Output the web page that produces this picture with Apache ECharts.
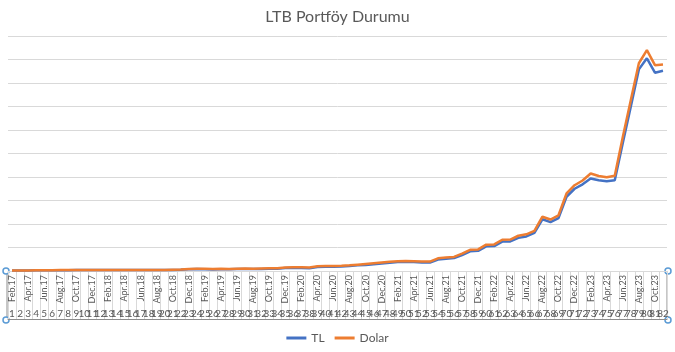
<!DOCTYPE html>
<html>
<head>
<meta charset="utf-8">
<script src="https://cdn.jsdelivr.net/npm/echarts@6/dist/echarts.min.js"></script>
<style>html,body{margin:0;padding:0;background:#fff}#c{width:675px;height:352px}</style>
</head>
<body>
<div id="c"></div>
<script>
var titleText = 'LTB Portföy Durumu';
var months = [
'Feb.17','Mar.17','Apr.17','May.17','Jun.17','Jul.17','Aug.17','Sep.17','Oct.17','Nov.17','Dec.17',
'Jan.18','Feb.18','Mar.18','Apr.18','May.18','Jun.18','Jul.18','Aug.18','Sep.18','Oct.18','Nov.18','Dec.18',
'Jan.19','Feb.19','Mar.19','Apr.19','May.19','Jun.19','Jul.19','Aug.19','Sep.19','Oct.19','Nov.19','Dec.19',
'Jan.20','Feb.20','Mar.20','Apr.20','May.20','Jun.20','Jul.20','Aug.20','Sep.20','Oct.20','Nov.20','Dec.20',
'Jan.21','Feb.21','Mar.21','Apr.21','May.21','Jun.21','Jul.21','Aug.21','Sep.21','Oct.21','Nov.21','Dec.21',
'Jan.22','Feb.22','Mar.22','Apr.22','May.22','Jun.22','Jul.22','Aug.22','Sep.22','Oct.22','Nov.22','Dec.22',
'Jan.23','Feb.23','Mar.23','Apr.23','May.23','Jun.23','Jul.23','Aug.23','Sep.23','Oct.23','Nov.23'
];
var indexLabels = [
'1','2','3','4','5','6','7','8','9','10','11','12','13','14','15','16','17','18','19','20',
'21','22','23','24','25','26','27','28','29','30','31','32','33','34','35','36','37','38','39','40',
'41','42','43','44','45','46','47','48','49','50','51','52','53','54','55','56','57','58','59','60',
'61','62','63','64','65','66','67','68','69','70','71','72','73','74','75','76','77','78','79','80',
'81','82'
];
var tlValues = [
0.2,0.2,0.2,0.3,0.3,0.3,0.3,0.3,0.4,0.4,0.4,0.4,0.4,0.4,0.4,0.4,0.4,0.4,0.4,0.4,
0.4,0.5,0.7,0.8,0.7,0.6,0.7,0.7,0.8,0.9,0.8,0.9,1.0,1.0,1.3,1.4,1.3,1.2,1.7,1.8,
1.8,1.9,2.1,2.4,2.6,2.9,3.2,3.5,3.8,3.9,3.8,3.6,3.6,4.9,5.2,5.5,6.8,8.4,8.6,10.5,
10.6,12.5,12.6,14.1,14.7,16.2,22.0,20.8,22.5,31.6,35.0,36.9,39.4,38.6,38.2,38.6,54.5,70.0,85.8,90.5,
84.4,85.2
];
var dolarValues = [
0.2,0.2,0.2,0.3,0.3,0.3,0.4,0.4,0.4,0.4,0.4,0.4,0.4,0.4,0.4,0.4,0.4,0.4,0.4,0.4,
0.5,0.6,0.9,1.0,1.0,0.9,1.0,0.9,1.0,1.1,1.0,1.1,1.2,1.2,1.5,1.6,1.6,1.5,2.0,2.1,
2.1,2.2,2.4,2.7,3.0,3.3,3.6,3.9,4.2,4.3,4.2,4.0,4.0,5.4,5.7,6.0,7.4,9.0,9.2,11.2,
11.3,13.3,13.4,15.0,15.6,17.1,23.1,21.9,23.7,33.0,36.5,38.5,41.5,40.4,39.9,40.5,57.0,72.8,88.4,94.0,
87.6,87.9
];
var seriesNames = ['TL','Dolar'];

var font = 'Lato, "Liberation Sans", sans-serif';
var chart = echarts.init(document.getElementById('c'), null, {renderer:'canvas'});
chart.setOption({
  animation:false,
  backgroundColor:'#ffffff',
  title:{text:titleText,left:'center',top:4,textStyle:{fontFamily:font,fontSize:16,fontWeight:'normal',color:'#595959'}},
  legend:{data:seriesNames,bottom:3,left:'center',icon:'rect',itemWidth:20,itemHeight:3,itemGap:10,
    textStyle:{fontFamily:font,fontSize:12,color:'#595959'}},
  grid:{left:8,right:8,top:36,bottom:81,containLabel:false},
  xAxis:[
    {type:'category',data:months,position:'bottom',boundaryGap:true,
      axisLine:{show:true,lineStyle:{color:'#d9d9d9',width:1}},
      axisTick:{show:true,interval:0,length:48,lineStyle:{color:'#d9d9d9'}},
      axisLabel:{interval:1,rotate:90,fontSize:9,fontFamily:font,color:'#595959',margin:4}
    },
    {type:'category',data:indexLabels,position:'bottom',offset:36,boundaryGap:true,
      axisLine:{show:false},axisTick:{show:false},
      axisLabel:{interval:0,fontSize:10,fontFamily:font,color:'#595959',margin:2}
    },
    {type:'category',data:indexLabels,position:'bottom',offset:48,boundaryGap:true,
      axisLine:{show:true,lineStyle:{color:'#8c8c8c',width:1}},axisTick:{show:false},
      axisLabel:{show:false}
    }
  ],
  yAxis:{type:'value',min:0,max:100,interval:10,
    axisLabel:{show:false},axisLine:{show:false},axisTick:{show:false},
    splitLine:{lineStyle:{color:'#d9d9d9',width:1}}},
  series:[
    {name:seriesNames[0],type:'line',data:tlValues,xAxisIndex:0,showSymbol:false,symbol:'none',
      lineStyle:{color:'#4472C4',width:2.5},itemStyle:{color:'#4472C4'}},
    {name:seriesNames[1],type:'line',data:dolarValues,xAxisIndex:0,showSymbol:false,symbol:'none',
      lineStyle:{color:'#ED7D31',width:2.5},itemStyle:{color:'#ED7D31'}}
  ],
  graphic:[
    {type:'line',shape:{x1:7,y1:271,x2:7,y2:319},style:{stroke:'#8c8c8c',lineWidth:1},silent:true},
    {type:'line',shape:{x1:667,y1:271,x2:667,y2:319},style:{stroke:'#8c8c8c',lineWidth:1},silent:true},
    {type:'circle',shape:{cx:6,cy:271,r:3},style:{fill:'#fff',stroke:'#5B9BD5',lineWidth:1.5},silent:true},
    {type:'circle',shape:{cx:6,cy:320,r:3},style:{fill:'#fff',stroke:'#5B9BD5',lineWidth:1.5},silent:true},
    {type:'circle',shape:{cx:668,cy:271,r:3},style:{fill:'#fff',stroke:'#5B9BD5',lineWidth:1.5},silent:true},
    {type:'circle',shape:{cx:668,cy:320,r:3},style:{fill:'#fff',stroke:'#5B9BD5',lineWidth:1.5},silent:true}
  ]
});
</script>
</body>
</html>
